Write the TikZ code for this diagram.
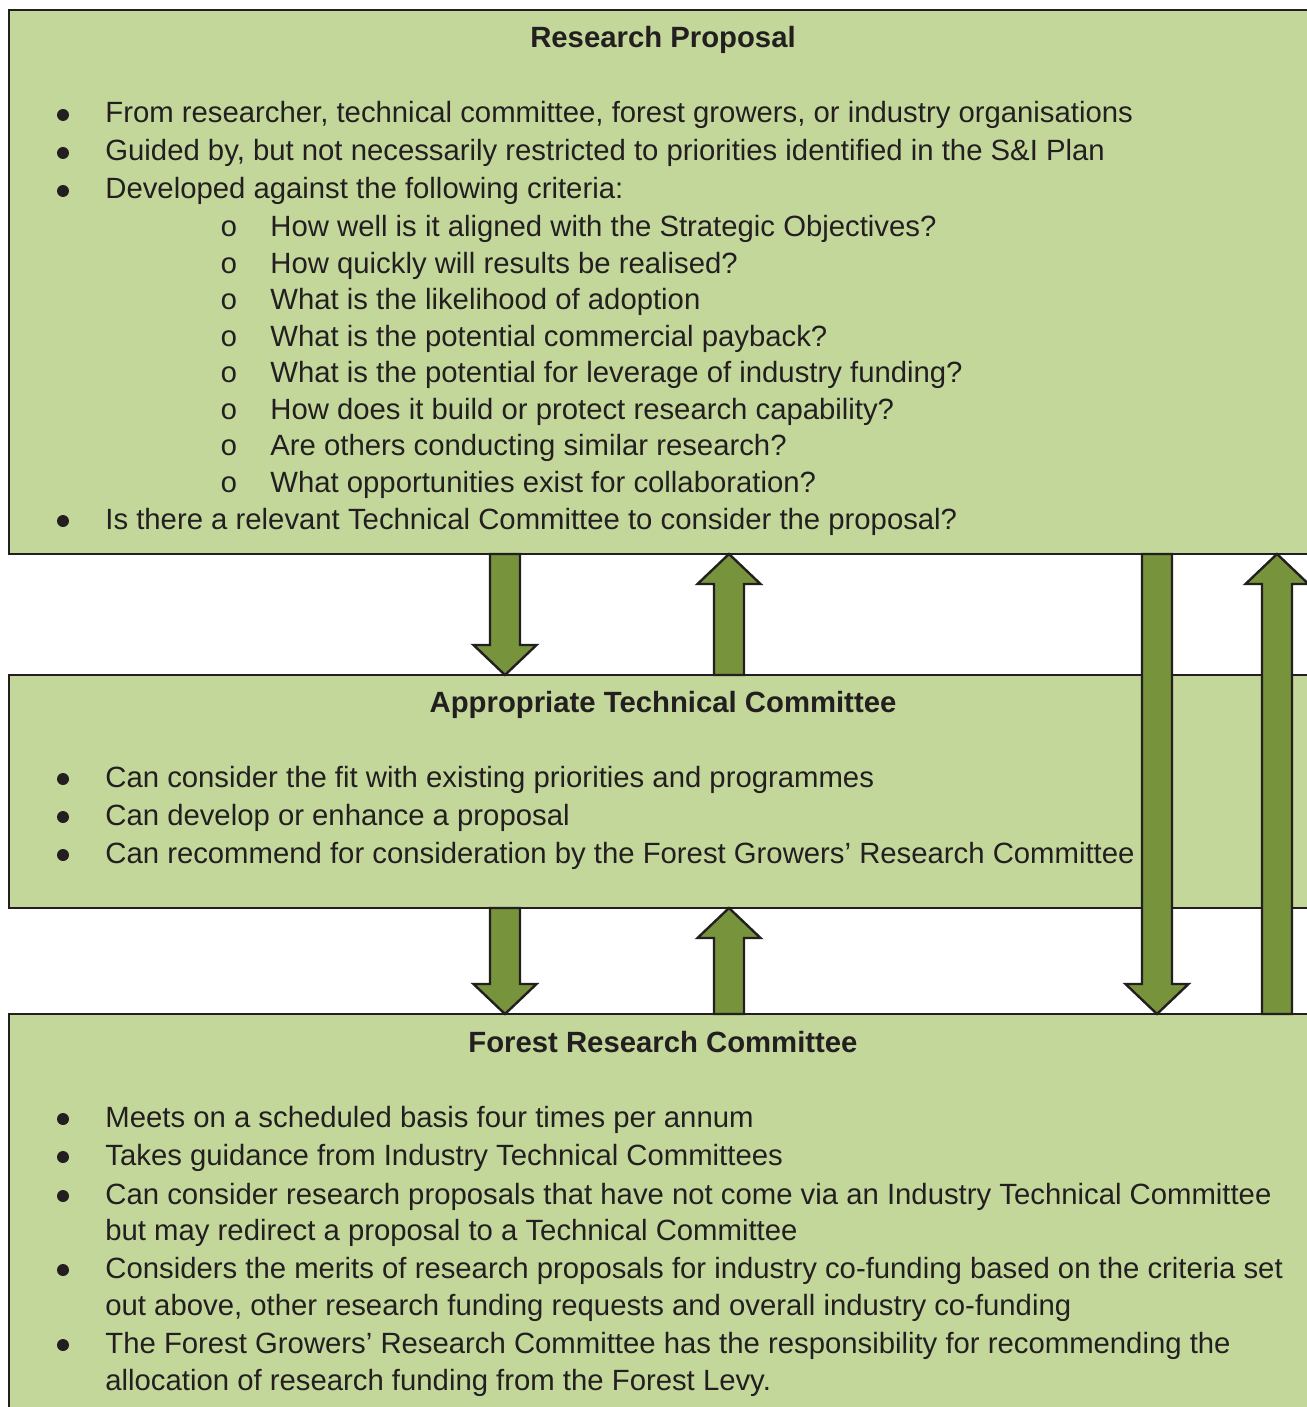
\documentclass[tikz,border=0pt]{standalone}
\usepackage{fontspec}
\setmainfont{Liberation Sans}
\setmonofont{Liberation Mono}
\usetikzlibrary{calc}
\definecolor{panelgreen}{HTML}{C4D79B}
\definecolor{arrowgreen}{HTML}{77933C}
\definecolor{inkgrey}{HTML}{231F20}
\tikzstyle{panel}=[rectangle,draw=inkgrey,fill=panelgreen,line width=0.75pt,anchor=north west,inner sep=0pt,outer sep=0pt,minimum width=654pt]
\tikzstyle{heading}=[anchor=base,inner sep=0pt,text=inkgrey,font=\fontsize{14.65}{17}\selectfont\bfseries]
\tikzstyle{item}=[anchor=base west,inner sep=0pt,text=inkgrey,font=\fontsize{14.65}{17}\selectfont]
\tikzstyle{bulletdot}=[circle,fill=inkgrey,inner sep=0pt,minimum size=6pt]
\tikzstyle{subdot}=[anchor=base,inner sep=0pt,text=inkgrey,font=\fontsize{14.65}{17}\selectfont\ttfamily]
\tikzstyle{arrowbody}=[draw=inkgrey,fill=arrowgreen,line width=1.2pt,line join=miter]
% block arrow from #1 to #2 (vertical)
\newcommand{\flowarrow}[2]{%
  \draw[arrowbody] let \p1=#1, \p2=#2, \n1={sign(\y1-\y2)} in
    (\x1-7.5pt,\y1) -- (\x2-7.5pt,{\y2+15pt*\n1}) -- (\x2-15.75pt,{\y2+15pt*\n1})
    -- (\x2,\y2) -- (\x2+15.75pt,{\y2+15pt*\n1}) -- (\x2+7.5pt,{\y2+15pt*\n1})
    -- (\x1+7.5pt,\y1) -- cycle;}

\begin{document}
\begin{tikzpicture}[x=0.5pt,y=-0.5pt]
    \useasboundingbox (0,0) rectangle (1306,1407);
    % The three committee panels
    \node[panel,minimum height=272pt] (prop) at (9,10) {};
    \node[panel,minimum height=116.5pt] (tech) at (9,675) {};
    \node[panel,minimum height=215pt] (frc) at (9,1014) {};

    % Headings
    \node[heading] (propTitle) at (663,48) {Research Proposal};
    \node[heading] (techTitle) at (663,712) {Appropriate Technical Committee};
    \node[heading] (frcTitle) at (663,1052) {Forest Research Committee};

    % Bullet lines
    \foreach \y/\txt in {123/{From researcher, technical committee, forest growers, or industry organisations},
        161/{Guided by, but not necessarily restricted to priorities identified in the S\&I Plan},
        199/{Developed against the following criteria:},
        529/{Is there a relevant Technical Committee to consider the proposal?},
        787/{Can consider the fit with existing priorities and programmes},
        825/{Can develop or enhance a proposal},
        863/{Can recommend for consideration by the Forest Growers’ Research Committee},
        1127/{Meets on a scheduled basis four times per annum},
        1165/{Takes guidance from Industry Technical Committees},
        1204/{Can consider research proposals that have not come via an Industry Technical Committee},
        1240/{but may redirect a proposal to a Technical Committee},
        1278/{Considers the merits of research proposals for industry co-funding based on the criteria set},
        1315/{out above, other research funding requests and overall industry co-funding},
        1353/{The Forest Growers’ Research Committee has the responsibility for recommending the},
        1390/{allocation of research funding from the Forest Levy.}}
        \node[item] (line\y) at (105,\y) {\txt};

    % Criteria sub-items
    \foreach \y/\txt in {236/{How well is it aligned with the Strategic Objectives?},
        273/{How quickly will results be realised?},
        309/{What is the likelihood of adoption},
        346/{What is the potential commercial payback?},
        382/{What is the potential for leverage of industry funding?},
        419/{How does it build or protect research capability?},
        455/{Are others conducting similar research?},
        492/{What opportunities exist for collaboration?}}
    {
        \node[subdot] (sub\y) at (229,\y) {o};
        \node[item] (crit\y) at (270,\y) {\txt};
    }

    \foreach \y in {123,161,199,529,787,825,863,1127,1165,1204,1278,1353}
        \node[bulletdot] (dot\y) at (63,\y-8) {};

    % Arrows between panels
    \flowarrow{(505,0 |- prop.south)}{(505,0 |- tech.north)}
    \flowarrow{(729,0 |- tech.north)}{(729,0 |- prop.south)}
    \flowarrow{(505,0 |- tech.south)}{(505,0 |- frc.north)}
    \flowarrow{(729,0 |- frc.north)}{(729,0 |- tech.south)}
    \flowarrow{(1157,0 |- prop.south)}{(1157,0 |- frc.north)}
    \flowarrow{(1277,0 |- frc.north)}{(1277,0 |- prop.south)}
\end{tikzpicture}
\end{document}
